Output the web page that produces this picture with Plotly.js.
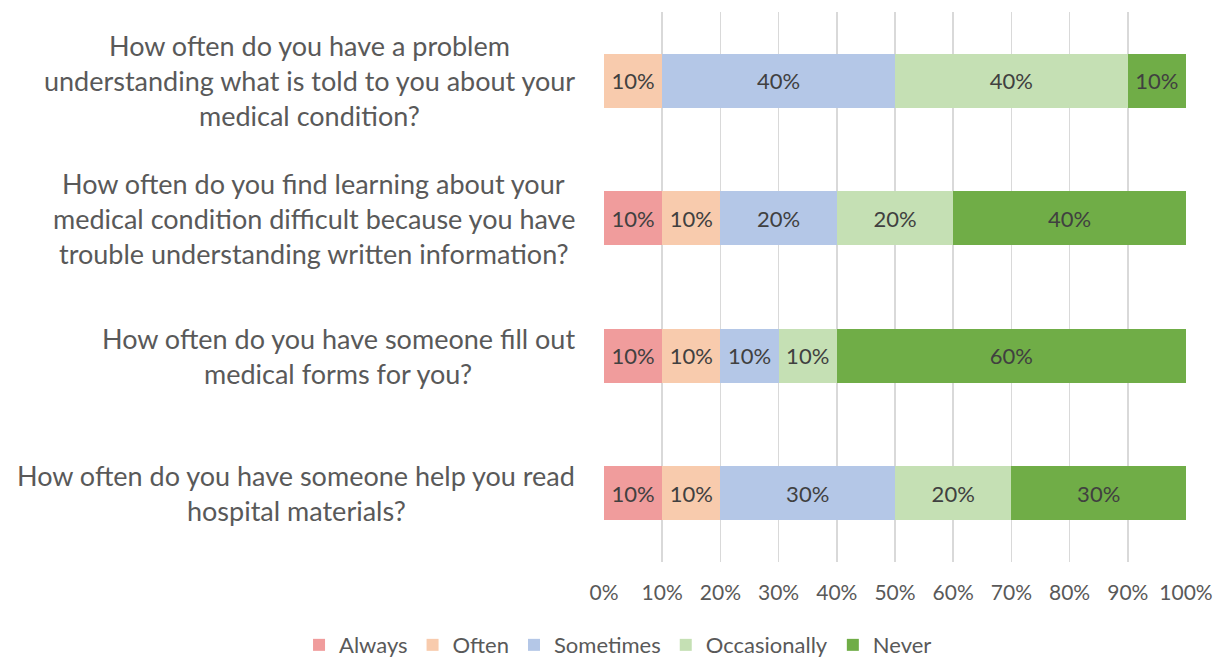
<!DOCTYPE html>
<html>
<head>
<meta charset="utf-8">
<script src="https://cdn.plot.ly/plotly-3.0.1.min.js"></script>
<style>html,body{margin:0;padding:0;background:#fff;}#chart{width:1217px;height:659px;}</style>
</head>
<body>
<div id="chart"></div>
<script>
// Questions listed top to bottom
const questions = [
  "How often do you have a problem<br>understanding what is told to you about your<br>medical condition?",
  "How often do you find learning about your<br>medical condition difficult because you have<br>trouble understanding written information?",
  "How often do you have someone fill out<br>medical forms for you?",
  "How often do you have someone help you read<br>hospital materials?"
];
const seriesNames = ["Always", "Often", "Sometimes", "Occasionally", "Never"];
const always       = [0.0, 0.1, 0.1, 0.1];
const often        = [0.1, 0.1, 0.1, 0.1];
const sometimes    = [0.4, 0.2, 0.1, 0.3];
const occasionally = [0.4, 0.2, 0.1, 0.2];
const never        = [0.1, 0.4, 0.6, 0.3];
const xTickVals = [0,0.1,0.2,0.3,0.4,0.5,0.6,0.7,0.8,0.9,1.0];
const xTickText = ["0%","10%","20%","30%","40%","50%","60%","70%","80%","90%","100%"];

const colors = ["#F09C9C", "#F8CBAD", "#B4C7E7", "#C5E0B4", "#70AD47"];
const allValues = [always, often, sometimes, occasionally, never];
const FONT = "Lato, 'Open Sans', sans-serif";

const keys = questions.map((q, i) => "q" + i);

const traces = seriesNames.map((name, s) => {
  const vals = allValues[s];
  return {
    type: "bar",
    orientation: "h",
    name: name,
    x: vals,
    y: keys,
    marker: {color: colors[s], line: {width: 0}},
    text: vals.map(v => v > 0 ? Math.round(v * 100) + "%" : ""),
    textposition: "inside",
    insidetextanchor: "middle",
    textangle: 0,
    insidetextfont: {family: FONT, size: 22, color: "#404040"},
    constraintext: "none",
    hoverinfo: "skip",
    cliponaxis: false
  };
});

// Category labels as centered multi-line annotations
const annotations = [];
const lineH = 35;
questions.forEach((q, i) => {
  const lines = q.split("<br>");
  const mid = (lines.length - 1) / 2;
  lines.forEach((ln, j) => {
    annotations.push({
      xref: "paper", yref: "y",
      x: 0, y: keys[i],
      xanchor: "right", yanchor: "middle",
      xshift: -27, yshift: (mid - j) * lineH,
      text: ln, showarrow: false,
      font: {family: FONT, size: 27, color: "#595959"}
    });
  });
});

const layout = {
  width: 1217, height: 659,
  margin: {l: 604, r: 31, t: 12, b: 97, pad: 0, autoexpand: false},
  paper_bgcolor: "#fff", plot_bgcolor: "#fff",
  barmode: "stack",
  bargap: 0.607,
  showlegend: true,
  legend: {
    orientation: "h", xref: "paper", yref: "paper",
    x: -0.524, xanchor: "left", y: -0.151, yanchor: "middle",
    font: {family: FONT, size: 22, color: "#595959"},
    traceorder: "normal", itemclick: false, tracegroupgap: 0
  },
  xaxis: {
    range: [0, 1], tickvals: xTickVals, ticktext: xTickText,
    showgrid: true, gridcolor: "#D9D9D9", gridwidth: 1.5,
    zeroline: false, showline: false, ticks: "",
    ticklabelstandoff: 16,
    tickfont: {family: FONT, size: 21, color: "#595959"},
    fixedrange: true
  },
  yaxis: {
    type: "category", autorange: "reversed",
    showticklabels: false, showgrid: false, zeroline: false, showline: false,
    ticks: "", fixedrange: true
  },
  annotations: annotations,
  font: {family: FONT}
};

Plotly.newPlot("chart", traces, layout, {displayModeBar: false, staticPlot: true}).then(gd => {
  // Center each line within its label block
  const anns = gd.querySelectorAll(".annotation");
  const widths = [];
  anns.forEach(a => { const t = a.querySelector("text"); widths.push(t ? t.getBBox().width : 0); });
  let idx = 0;
  const newAnns = JSON.parse(JSON.stringify(layout.annotations));
  questions.forEach((q, i) => {
    const n = q.split("<br>").length;
    const ws = widths.slice(idx, idx + n);
    const maxW = Math.max(...ws);
    for (let j = 0; j < n; j++) newAnns[idx + j].xshift = -27 - (maxW - ws[j]) / 2;
    idx += n;
  });
  Plotly.relayout(gd, {annotations: newAnns});
});
</script>
</body>
</html>
